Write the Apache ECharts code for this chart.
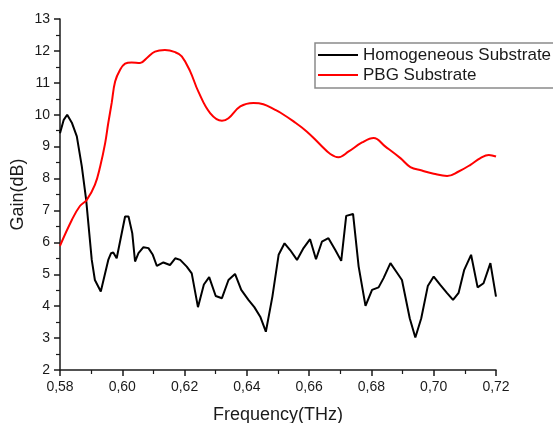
<!DOCTYPE html>
<html>
<head>
<meta charset="utf-8">
<script src="https://cdn.jsdelivr.net/npm/echarts@6/dist/echarts.min.js"></script>
<style>html,body{margin:0;padding:0;background:#fff;}#c{width:553px;height:423px;}</style>
</head>
<body>
<div id="c"></div>
<script>
var seriesNames = ["Homogeneous Substrate", "PBG Substrate"];
var freqHomog = [0.580,0.5812,0.5823,0.5838,0.5854,0.587,0.5884,0.5902,0.5912,0.5931,0.5955,0.5964,0.5971,0.5982,0.6009,0.602,0.6032,0.6041,0.6052,0.6068,0.6084,0.6098,0.6111,0.6132,0.6153,0.617,0.6186,0.6207,0.6223,0.6243,0.6262,0.6279,0.630,0.632,0.6341,0.6362,0.6382,0.6405,0.6424,0.6443,0.6461,0.6482,0.6502,0.6521,0.6539,0.6561,0.6582,0.6603,0.6622,0.6641,0.6662,0.6684,0.6703,0.6719,0.6741,0.6759,0.6781,0.6802,0.6823,0.6839,0.6861,0.688,0.6898,0.6923,0.6941,0.696,0.6981,0.700,0.7021,0.7043,0.7062,0.708,0.7098,0.712,0.7141,0.716,0.7182,0.720];
var gainHomog = [9.42,9.84,10.0,9.75,9.32,8.38,7.33,5.45,4.82,4.46,5.45,5.66,5.68,5.5,6.81,6.81,6.29,5.4,5.66,5.85,5.82,5.61,5.26,5.37,5.29,5.5,5.45,5.24,5.03,3.97,4.68,4.91,4.32,4.25,4.82,5.01,4.51,4.2,3.97,3.67,3.2,4.3,5.61,5.97,5.76,5.45,5.82,6.1,5.47,6.02,6.13,5.76,5.42,6.83,6.89,5.24,4.01,4.51,4.59,4.88,5.35,5.08,4.82,3.62,3.02,3.62,4.63,4.93,4.67,4.41,4.2,4.42,5.14,5.61,4.59,4.72,5.35,4.3];
var freqPBG = [0.580,0.5838,0.5864,0.5886,0.5912,0.5929,0.5945,0.5955,0.5966,0.5977,0.5993,0.6009,0.603,0.6057,0.6079,0.6105,0.6137,0.617,0.6191,0.6218,0.6244,0.6282,0.632,0.6341,0.6379,0.6421,0.6453,0.6491,0.6507,0.655,0.6593,0.6636,0.6668,0.6694,0.6727,0.677,0.6807,0.6845,0.6893,0.6925,0.6962,0.700,0.7043,0.708,0.7118,0.715,0.7177,0.720];
var gainPBG = [5.89,6.7,7.14,7.33,7.8,8.38,9.11,9.74,10.37,11.04,11.41,11.6,11.64,11.62,11.78,11.98,12.03,11.96,11.83,11.36,10.73,10.05,9.81,9.89,10.26,10.37,10.33,10.15,10.07,9.79,9.47,9.06,8.77,8.67,8.85,9.13,9.27,9.0,8.64,8.36,8.25,8.15,8.08,8.22,8.43,8.64,8.74,8.69];
var xTicks = {min: 0.58, max: 0.72, step: 0.02};
var yTicks = {min: 2, max: 13, step: 1};

function zip(a, b) { return a.map(function (v, i) { return [v, b[i]]; }); }

var font = "'Liberation Sans', Arial, sans-serif";
var chart = echarts.init(document.getElementById('c'), null, {renderer: 'canvas'});
chart.setOption({
  animation: false,
  backgroundColor: '#ffffff',
  grid: {left: 60, right: 57, top: 19, bottom: 53, containLabel: false, outerBoundsMode: 'none'},
  legend: {
    orient: 'vertical', left: 315, top: 43,
    padding: [2, 6, 3, 3],
    icon: 'rect',
    itemWidth: 40, itemHeight: 2, itemGap: 0,
    borderColor: '#8a8a8a', borderWidth: 1.5,
    textStyle: {fontFamily: font, fontSize: 17, color: '#1a1a1a', lineHeight: 20},
    data: seriesNames
  },
  xAxis: {
    type: 'value', min: xTicks.min, max: xTicks.max, interval: xTicks.step,
    name: 'Frequency(THz)', nameLocation: 'middle', nameGap: 36, nameMoveOverlap: false,
    nameTextStyle: {fontFamily: font, fontSize: 18, color: '#1a1a1a'},
    axisLine: {show: true, onZero: false, lineStyle: {color: '#1a1a1a', width: 1.5}},
    axisTick: {show: true, inside: false, length: 6, lineStyle: {color: '#1a1a1a', width: 1.5}},
    minorTick: {show: true, splitNumber: 2, length: 4, lineStyle: {color: '#1a1a1a', width: 1.2}},
    splitLine: {show: false},
    axisLabel: {fontFamily: font, fontSize: 14, color: '#1a1a1a', margin: 10,
      formatter: function (v) { return v.toFixed(2).replace('.', ','); }}
  },
  yAxis: {
    type: 'value', min: yTicks.min, max: yTicks.max, interval: yTicks.step,
    name: 'Gain(dB)', nameLocation: 'middle', nameGap: 33, nameRotate: 90, nameMoveOverlap: false,
    nameTextStyle: {fontFamily: font, fontSize: 18, color: '#1a1a1a'},
    axisLine: {show: true, onZero: false, lineStyle: {color: '#1a1a1a', width: 1.5}},
    axisTick: {show: true, inside: false, length: 6, lineStyle: {color: '#1a1a1a', width: 1.5}},
    minorTick: {show: true, splitNumber: 2, length: 4, lineStyle: {color: '#1a1a1a', width: 1.2}},
    splitLine: {show: false},
    axisLabel: {fontFamily: font, fontSize: 14, color: '#1a1a1a', margin: 10}
  },
  series: [
    {name: seriesNames[0], type: 'line', data: zip(freqHomog, gainHomog), symbol: 'none', smooth: false,
     lineStyle: {color: '#000000', width: 2}, itemStyle: {color: '#000000'}},
    {name: seriesNames[1], type: 'line', data: zip(freqPBG, gainPBG), symbol: 'none', smooth: 0.4,
     lineStyle: {color: '#ff0000', width: 2}, itemStyle: {color: '#ff0000'}}
  ]
});
</script>
</body>
</html>
